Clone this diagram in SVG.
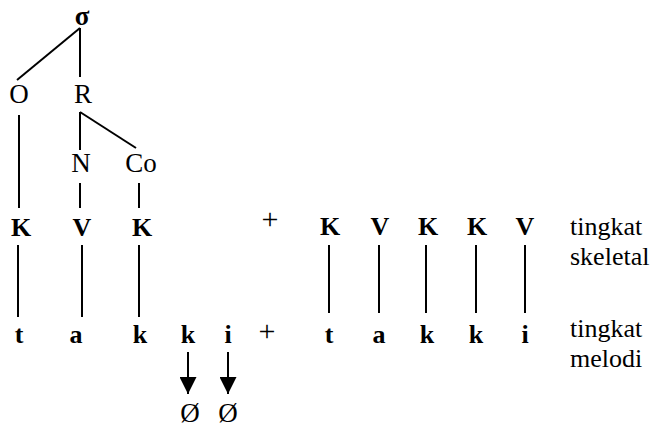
<svg xmlns="http://www.w3.org/2000/svg" width="652" height="427" viewBox="0 0 652 427">
<defs>
<style>
text{font-family:"Liberation Serif","Times New Roman",serif;font-size:26px;fill:#000}
.m{text-anchor:middle}
.b{font-weight:bold}
.n{font-size:27px}
.p{font-size:30px}
.s{font-size:27px}
.ln line{stroke:#000;stroke-width:2}
</style>
<marker id="ah" viewBox="0 0 10 10" refX="10" refY="5" markerWidth="17" markerHeight="17" markerUnits="userSpaceOnUse" orient="auto"><path d="M0,0 L10,5 L0,10 Z" fill="#000"/></marker>
</defs>
<rect width="652" height="427" fill="#fff"/>
<g id="connectors" class="ln">
<line x1="80" y1="28" x2="17" y2="80"/>
<line x1="80" y1="28" x2="80" y2="77"/>
<line x1="19" y1="115" x2="19" y2="208"/>
<line x1="80" y1="112" x2="80" y2="150"/>
<line x1="80" y1="112" x2="136" y2="148"/>
<line x1="80" y1="183" x2="80" y2="208"/>
<line x1="139" y1="183" x2="139" y2="208"/>
<line x1="18" y1="245" x2="18" y2="317"/>
<line x1="82" y1="245" x2="82" y2="317"/>
<line x1="139" y1="245" x2="139" y2="317"/>
<line x1="329" y1="245" x2="329" y2="313"/>
<line x1="379" y1="245" x2="379" y2="313"/>
<line x1="426" y1="245" x2="426" y2="313"/>
<line x1="476" y1="245" x2="476" y2="313"/>
<line x1="525" y1="245" x2="525" y2="313"/>
<line x1="188" y1="352" x2="188" y2="394" marker-end="url(#ah)"/>
<line x1="228" y1="352" x2="228" y2="394" marker-end="url(#ah)"/>
</g>
<g id="sigma"><text class="m b s" x="82" y="25">σ</text></g>
<g id="O"><text class="m n" x="19" y="103">O</text></g>
<g id="R"><text class="m n" x="83" y="103">R</text></g>
<g id="N"><text class="m n" x="81" y="172">N</text></g>
<g id="Co"><text class="m n" x="141" y="172">Co</text></g>
<g id="skeletal-left">
<text class="m b" x="21" y="236">K</text>
<text class="m b" x="82" y="236">V</text>
<text class="m b" x="142" y="236">K</text>
</g>
<g id="plus-top"><text class="m p" x="270" y="229">+</text></g>
<g id="skeletal-right">
<text class="m b" x="330" y="235">K</text>
<text class="m b" x="380" y="235">V</text>
<text class="m b" x="428" y="235">K</text>
<text class="m b" x="477" y="235">K</text>
<text class="m b" x="525" y="235">V</text>
</g>
<g id="melody-left">
<text class="m b" x="19" y="343">t</text>
<text class="m b" x="76" y="343">a</text>
<text class="m b" x="140" y="343">k</text>
<text class="m b" x="188" y="343">k</text>
<text class="m b" x="228" y="343">i</text>
</g>
<g id="plus-bottom"><text class="m p" x="267" y="341">+</text></g>
<g id="melody-right">
<text class="m b" x="329" y="343">t</text>
<text class="m b" x="379" y="343">a</text>
<text class="m b" x="427" y="343">k</text>
<text class="m b" x="476" y="343">k</text>
<text class="m b" x="525" y="343">i</text>
</g>
<g id="null">
<text class="m n" x="190" y="422">Ø</text>
<text class="m n" x="228" y="422">Ø</text>
</g>
<g id="labels">
<text x="570" y="235">tingkat</text>
<text x="570" y="265">skeletal</text>
<text x="570" y="337">tingkat</text>
<text x="570" y="367">melodi</text>
</g>
</svg>
